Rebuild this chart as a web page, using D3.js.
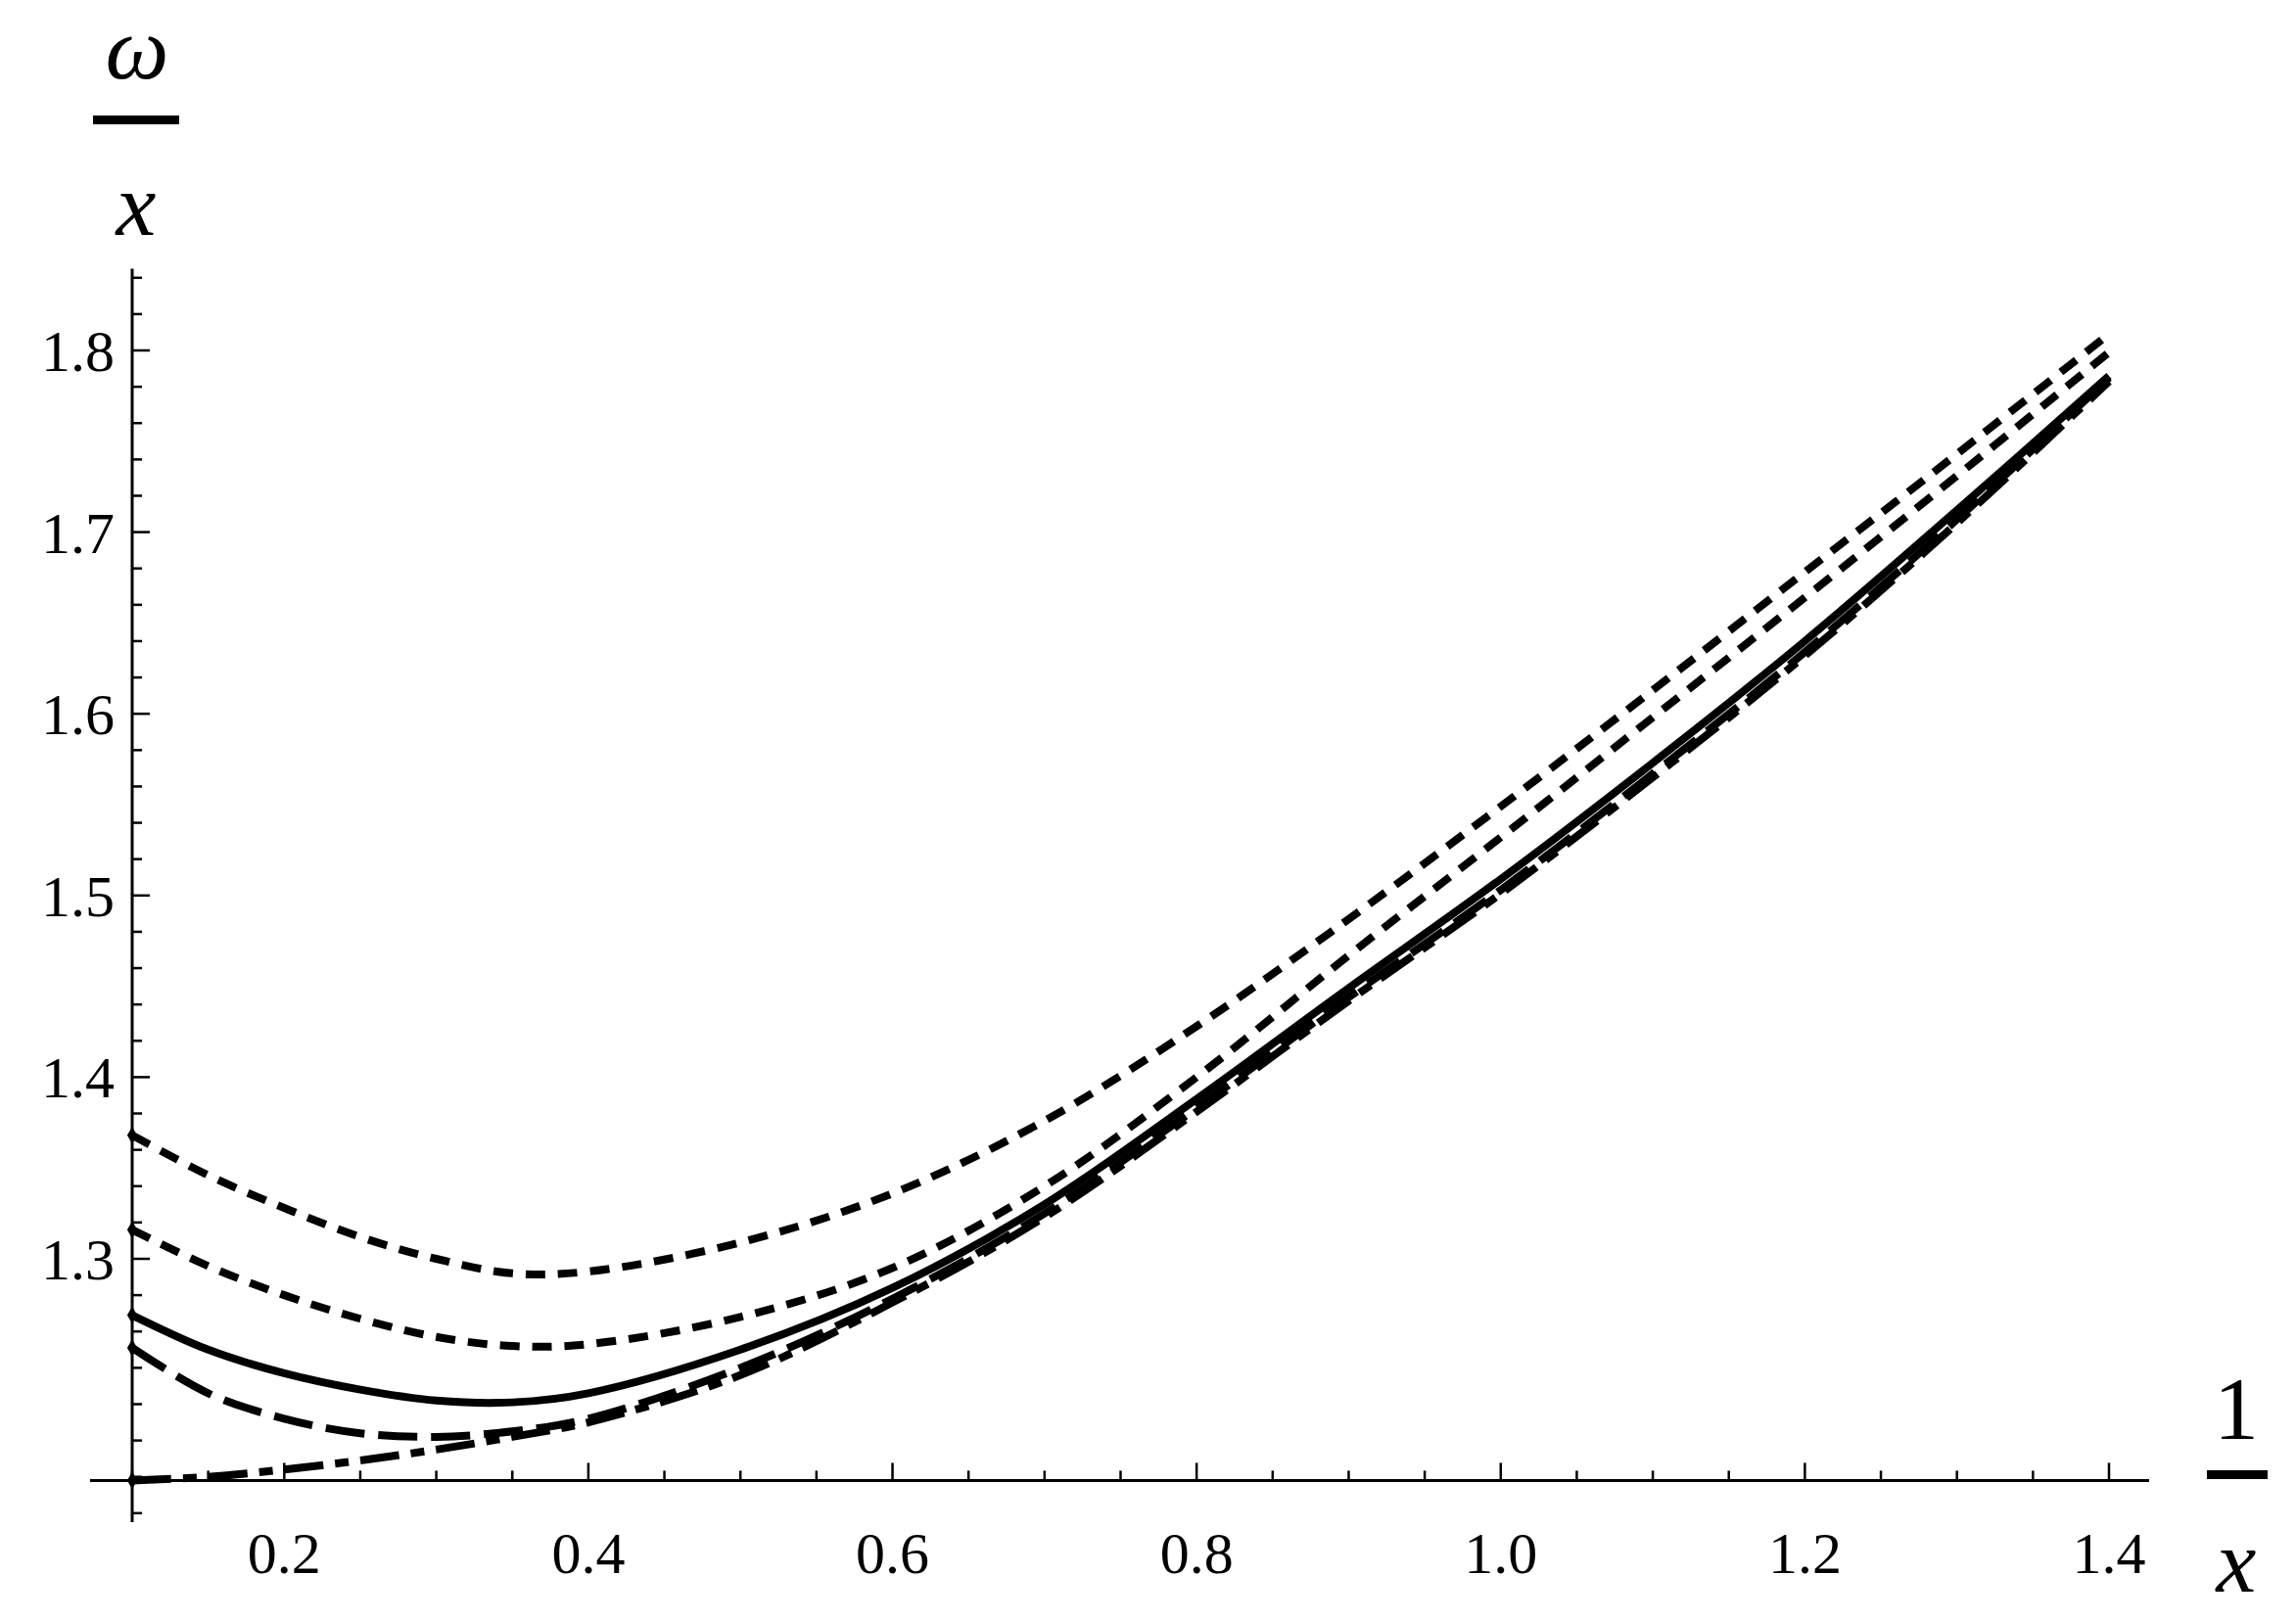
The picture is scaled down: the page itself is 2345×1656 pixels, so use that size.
<!DOCTYPE html>
<html>
<head>
<meta charset="utf-8">
<script src="https://cdn.jsdelivr.net/npm/d3@7"></script>
<style>
  body { margin: 0; background: #fff; }
  text { font-family: "Liberation Serif", "DejaVu Serif", serif; }
</style>
</head>
<body>
<div id="chart"></div>
<script>
// data
var xs      = [0.1,   0.15,  0.2,   0.25,  0.3,   0.35,  0.4,   0.5,   0.6,   0.7,   0.8,   0.9,   1.0,   1.1,   1.2,   1.3,   1.4];
var dotted1 = [1.368, 1.346, 1.328, 1.312, 1.300, 1.292, 1.293, 1.309, 1.336, 1.376, 1.428, 1.487, 1.549, 1.613, 1.678, 1.743, 1.809];
var dotted2 = [1.316, 1.296, 1.280, 1.267, 1.257, 1.252, 1.253, 1.268, 1.295, 1.340, 1.400, 1.467, 1.532, 1.598, 1.664, 1.731, 1.799];
var solid   = [1.269, 1.250, 1.237, 1.228, 1.222, 1.221, 1.226, 1.250, 1.284, 1.330, 1.388, 1.449, 1.509, 1.573, 1.640, 1.712, 1.786];
var dashed  = [1.251, 1.226, 1.212, 1.204, 1.202, 1.205, 1.212, 1.240, 1.278, 1.325, 1.383, 1.444, 1.503, 1.567, 1.634, 1.707, 1.785];
var dotdash = [1.178, 1.180, 1.184, 1.189, 1.195, 1.202, 1.210, 1.236, 1.276, 1.323, 1.381, 1.442, 1.501, 1.565, 1.632, 1.705, 1.783];

var xMajor = [0.2, 0.4, 0.6, 0.8, 1.0, 1.2, 1.4];
var yMajor = [1.3, 1.4, 1.5, 1.6, 1.7, 1.8];

var series = [
  { vals: dotted1, dash: "20,13" },
  { vals: dotted2, dash: "20,13" },
  { vals: solid,   dash: null },
  { vals: dashed,  dash: "40,14" },
  { vals: dotdash, dash: "40,12,14,12" }
];

var svgWidth = 2345, svgHeight = 1656;

var svg = d3.select("#chart").append("svg")
  .attr("width", svgWidth)
  .attr("height", svgHeight);

var x = d3.scaleLinear().domain([0.1, 1.4]).range([135, 2154]);
var y = d3.scaleLinear().domain([1.3, 1.8]).range([1286, 358]);
var yAxisY = 1.178; // where the x axis crosses

// x axis
var xMinor = d3.range(0.1, 1.4001, 0.05).map(v => +v.toFixed(2));
var xa = svg.append("g").attr("transform", `translate(0,${y(yAxisY)})`);
xa.append("line").attr("x1", 92).attr("x2", 2195).attr("stroke", "#000").attr("stroke-width", 3);
xa.selectAll("line.tk").data(xMinor).enter().append("line")
  .attr("x1", d => x(d)).attr("x2", d => x(d))
  .attr("y1", 0).attr("y2", d => xMajor.some(m => Math.abs(m - d) < 1e-6) ? -18 : -10)
  .attr("stroke", "#000").attr("stroke-width", 2.5);
xa.selectAll("text").data(xMajor).enter().append("text")
  .attr("x", d => x(d)).attr("y", 95)
  .attr("text-anchor", "middle").attr("font-size", 60)
  .text(d => d.toFixed(1));

// y axis
var yMinor = d3.range(1.16, 1.8401, 0.02).map(v => +v.toFixed(2));
var ya = svg.append("g").attr("transform", `translate(${x(0.1)},0)`);
ya.append("line").attr("y1", y(1.845)).attr("y2", y(1.155)).attr("stroke", "#000").attr("stroke-width", 3);
ya.selectAll("line.tk").data(yMinor).enter().append("line")
  .attr("y1", d => y(d)).attr("y2", d => y(d))
  .attr("x1", 0).attr("x2", d => yMajor.some(m => Math.abs(m - d) < 1e-6) ? 18 : 10)
  .attr("stroke", "#000").attr("stroke-width", 2.5);
ya.selectAll("text").data(yMajor).enter().append("text")
  .attr("x", -18).attr("y", d => y(d)).attr("dy", "0.35em")
  .attr("text-anchor", "end").attr("font-size", 60)
  .text(d => d.toFixed(1));

// curves
var line = d3.line()
  .x((d, i) => x(xs[i]))
  .y(d => y(d))
  .curve(d3.curveCatmullRom);

series.forEach(function(s) {
  svg.append("path")
    .attr("d", line(s.vals))
    .attr("fill", "none")
    .attr("stroke", "#000")
    .attr("stroke-width", 8)
    .attr("stroke-dasharray", s.dash);
  // small start marker
  svg.append("path")
    .attr("d", d3.symbol(d3.symbolDiamond, 90)())
    .attr("transform", `translate(${x(xs[0])},${y(s.vals[0])})`)
    .attr("fill", "#000");
});

// axis labels as fractions
var ylab = svg.append("g");
ylab.append("text").attr("x", 140).attr("y", 80).attr("text-anchor", "middle")
  .attr("font-size", 92).attr("font-style", "italic").text("ω");
ylab.append("rect").attr("x", 95).attr("y", 118).attr("width", 88).attr("height", 9);
ylab.append("text").attr("x", 139).attr("y", 240).attr("text-anchor", "middle")
  .attr("font-size", 92).attr("font-style", "italic").text("x");

var xlab = svg.append("g");
xlab.append("text").attr("x", 2284).attr("y", 1470).attr("text-anchor", "middle")
  .attr("font-size", 92).text("1");
xlab.append("rect").attr("x", 2254).attr("y", 1502).attr("width", 62).attr("height", 9);
xlab.append("text").attr("x", 2284).attr("y", 1626).attr("text-anchor", "middle")
  .attr("font-size", 92).attr("font-style", "italic").text("x");
</script>
</body>
</html>
